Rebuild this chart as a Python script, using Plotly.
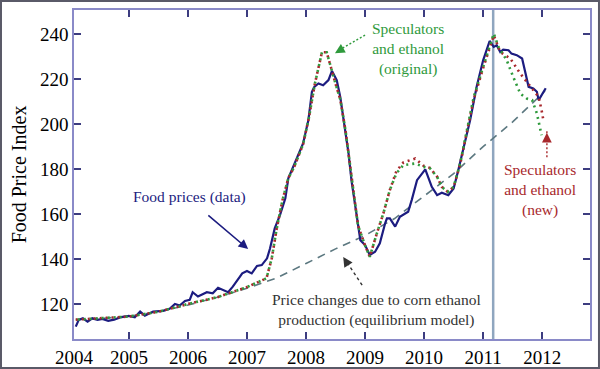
import plotly.graph_objects as go

# ---------------- data ----------------
food_years = [2004.10, 2004.15, 2004.22, 2004.30, 2004.38, 2004.47, 2004.55, 2004.65, 2004.75, 2004.85,
              2005.00, 2005.10, 2005.19, 2005.27, 2005.41, 2005.58, 2005.69, 2005.78, 2005.86, 2005.95,
              2006.03, 2006.08, 2006.17, 2006.32, 2006.42, 2006.51, 2006.68, 2006.76, 2006.92, 2007.00,
              2007.08, 2007.17, 2007.25, 2007.34, 2007.39, 2007.47, 2007.56, 2007.65, 2007.70, 2007.785,
              2007.95, 2008.04, 2008.10, 2008.14, 2008.21, 2008.29, 2008.38, 2008.44, 2008.52, 2008.58,
              2008.66, 2008.72, 2008.77, 2008.86, 2008.92, 2009.00, 2009.08, 2009.17, 2009.25, 2009.34,
              2009.37, 2009.42, 2009.51, 2009.59, 2009.65, 2009.73, 2009.79, 2009.88, 2010.02, 2010.07,
              2010.13, 2010.22, 2010.30, 2010.41, 2010.50, 2010.58, 2010.67, 2010.78, 2010.89, 2011.00,
              2011.11, 2011.18, 2011.23, 2011.29, 2011.34, 2011.43, 2011.48, 2011.57, 2011.66, 2011.71,
              2011.77, 2011.85, 2011.91, 2011.94, 2011.99, 2012.02, 2012.06]
food_values = [109.9, 112.9, 113.6, 112.1, 113.6, 112.9, 113.3, 112.5, 113.0, 114.0,
               114.7, 114.1, 116.6, 114.8, 116.6, 116.9, 117.8, 120.0, 119.3, 121.3,
               121.8, 125.2, 123.3, 125.2, 124.7, 127.2, 125.2, 127.7, 133.6, 134.7,
               133.6, 136.9, 137.3, 140.3, 144.7, 153.6, 159.6, 167.0, 175.9, 181.0,
               191.4, 201.8, 214.4, 216.6, 218.1, 217.3, 219.6, 223.7, 219.6, 212.1,
               197.3, 187.0, 175.0, 158.8, 148.4, 146.2, 141.8, 143.2, 147.0, 155.9,
               158.1, 158.1, 154.4, 158.8, 159.6, 161.0, 166.2, 175.1, 179.9, 176.6,
               172.1, 168.4, 169.5, 168.4, 171.4, 179.6, 189.9, 201.8, 216.6, 228.4,
               237.0, 234.4, 235.1, 232.1, 233.2, 232.9, 231.4, 230.7, 229.2, 224.0,
               216.6, 215.9, 214.4, 210.7, 212.9, 214.4, 216.0]

orig_years = [2004.10, 2004.50, 2005.00, 2005.50, 2006.00, 2006.50, 2007.00, 2007.33, 2007.42, 2007.50,
              2007.60, 2007.70, 2007.80, 2007.95, 2008.05, 2008.15, 2008.27, 2008.35, 2008.44, 2008.50,
              2008.58, 2008.67, 2008.78, 2008.88, 2009.00, 2009.08, 2009.20, 2009.31, 2009.42, 2009.53,
              2009.65, 2009.85, 2009.99, 2010.10, 2010.22, 2010.30, 2010.40, 2010.50, 2010.61, 2010.70,
              2010.84, 2011.00, 2011.15, 2011.18, 2011.26, 2011.40, 2011.51, 2011.63, 2011.74, 2011.83,
              2011.91, 2011.99]
orig_values = [113.0, 113.5, 114.4, 116.5, 120.0, 123.0, 127.5, 131.4, 140.3, 153.0,
               166.0, 176.0, 181.0, 191.0, 203.0, 218.0, 232.0, 232.0, 223.0, 218.0,
               211.0, 197.0, 175.0, 155.0, 146.0, 141.0, 151.4, 160.3, 170.7, 178.1,
               181.8, 182.5, 181.0, 180.3, 176.6, 172.1, 169.9, 172.1, 182.5, 194.0,
               212.0, 225.5, 237.3, 240.3, 234.4, 228.4, 221.0, 213.6, 211.4, 210.7,
               204.8, 195.1]

new_years = [2004.10, 2004.50, 2005.00, 2005.50, 2006.00, 2006.50, 2007.00, 2007.33, 2007.42, 2007.50,
             2007.60, 2007.70, 2007.80, 2007.95, 2008.05, 2008.15, 2008.27, 2008.35, 2008.44, 2008.50,
             2008.58, 2008.67, 2008.78, 2008.88, 2009.00, 2009.08, 2009.20, 2009.31, 2009.42, 2009.53,
             2009.65, 2009.85, 2009.99, 2010.10, 2010.22, 2010.30, 2010.40, 2010.50, 2010.61, 2010.70,
             2010.84, 2011.00, 2011.15, 2011.18, 2011.29, 2011.46, 2011.63, 2011.80, 2011.94, 2011.99,
             2012.02]
new_values = [113.0, 113.5, 114.4, 116.5, 120.0, 123.0, 127.5, 131.4, 140.3, 153.0,
              166.0, 176.0, 181.0, 191.0, 203.0, 218.0, 232.0, 232.0, 223.0, 218.0,
              211.0, 197.0, 175.0, 155.0, 146.0, 141.0, 151.4, 160.3, 170.7, 179.0,
              183.0, 184.7, 181.5, 180.5, 176.6, 172.1, 169.9, 172.0, 182.0, 193.5,
              211.0, 225.0, 237.0, 239.5, 232.1, 229.2, 222.5, 216.6, 212.1, 206.2,
              201.8]

equil_years = [2004.10, 2004.50, 2005.00, 2005.50, 2006.00, 2006.50, 2007.00, 2007.50, 2008.00, 2008.50,
               2009.00, 2009.50, 2010.00, 2010.50, 2011.00, 2011.50, 2012.00, 2012.05]
equil_values = [113.0, 113.5, 114.5, 116.5, 119.5, 123.0, 127.0, 131.5, 138.0, 144.5,
                150.5, 158.0, 168.0, 178.0, 190.0, 201.0, 213.5, 215.0]

x_tick_vals = [2004.07, 2005, 2006, 2007, 2008, 2009, 2010, 2011, 2012]
x_tick_text = ["2004", "2005", "2006", "2007", "2008", "2009", "2010", "2011", "2012"]
y_tick_vals = [120, 140, 160, 180, 200, 220, 240]
event_year = 2011.17

# ---------------- styling ----------------
SERIF = "Liberation Serif"
NAVY = "#1c1c80"
GREEN = "#2f9a3c"
RED = "#a8282c"
GRAY_DASH = "#5c7880"
TEXT_GRAY = "#333333"

fig = go.Figure()

fig.add_trace(go.Scatter(x=equil_years, y=equil_values, mode="lines",
                         line=dict(color=GRAY_DASH, width=1.6, dash="8px,6px"),
                         hoverinfo="skip", showlegend=False))
fig.add_trace(go.Scatter(x=food_years, y=food_values, mode="lines",
                         line=dict(color=NAVY, width=2.2),
                         showlegend=False))
# red and green dots interleave where the two model runs coincide
fig.add_trace(go.Scatter(x=new_years, y=new_values, mode="lines",
                         line=dict(color=RED, width=2.6, dash="2px,4px"),
                         showlegend=False))
fig.add_trace(go.Scatter(x=orig_years, y=orig_values, mode="lines",
                         line=dict(color=GREEN, width=2.6, dash="0px,2px,2px,2px"),
                         showlegend=False))

# vertical event line
fig.add_shape(type="line", xref="x", yref="paper", x0=event_year, x1=event_year, y0=0, y1=1,
              line=dict(color="#8fa6bf", width=2.5), layer="below")

# outer image border
fig.add_shape(type="rect", xref="paper", yref="paper",
              x0=-0.1415, x1=1.0174, y0=-0.0881, y1=1.0274,
              line=dict(color="#5a5a68", width=2))

# ---- annotations ----
fig.add_annotation(x=2006.03, y=167.6, text="Food prices (data)", showarrow=False,
                   font=dict(family=SERIF, size=15.5, color=NAVY))
fig.add_annotation(x=2007.02, y=144.4, ax=2006.32, ay=160.0, axref="x", ayref="y",
                   text="", showarrow=True, arrowhead=2, arrowsize=1.2, arrowwidth=1.6,
                   arrowcolor=NAVY)

fig.add_annotation(x=2009.73, y=233.3, text="Speculators<br>and ethanol<br>(original)",
                   showarrow=False, font=dict(family=SERIF, size=15.5, color=GREEN))
fig.add_shape(type="line", xref="x", yref="y", x0=2009.0, y0=239.6, x1=2008.55, y1=232.8,
              line=dict(color=GREEN, width=1.4, dash="2px,2px"))
fig.add_annotation(x=2008.49, y=231.6, ax=2008.62, ay=233.6, axref="x", ayref="y",
                   text="", showarrow=True, arrowhead=2, arrowsize=1.3, arrowwidth=1.5,
                   arrowcolor=GREEN)

fig.add_annotation(x=2011.97, y=170.7, text="Speculators<br>and ethanol<br>(new)",
                   showarrow=False, font=dict(family=SERIF, size=15.5, color=RED))
fig.add_shape(type="line", xref="x", yref="y", x0=2012.08, y0=185.3, x1=2012.08, y1=197.5,
              line=dict(color=RED, width=1.4, dash="2px,2px"))
fig.add_annotation(x=2012.08, y=196.2, ax=2012.08, ay=193.0, axref="x", ayref="y",
                   text="", showarrow=True, arrowhead=2, arrowsize=1.3, arrowwidth=1.5,
                   arrowcolor=RED)

fig.add_annotation(x=2009.20, y=117.3,
                   text="Price changes due to corn ethanol<br>production (equilibrium model)",
                   showarrow=False, font=dict(family=SERIF, size=15.5, color=TEXT_GRAY))
fig.add_shape(type="line", xref="x", yref="y", x0=2008.95, y0=128.4, x1=2008.67, y1=139.5,
              line=dict(color=TEXT_GRAY, width=1.4, dash="3px,3px"))
fig.add_annotation(x=2008.63, y=140.9, ax=2008.70, ay=138.0, axref="x", ayref="y",
                   text="", showarrow=True, arrowhead=2, arrowsize=1.3, arrowwidth=1.5,
                   arrowcolor=TEXT_GRAY)

axis_common = dict(showline=True, linecolor="#8a8ac8", linewidth=1.5, mirror="ticks",
                   ticks="inside", ticklen=7, tickwidth=1.5, tickcolor="#3c3c80",
                   showgrid=False, zeroline=False, automargin=False,
                   tickfont=dict(family=SERIF, size=19, color="black"))

fig.update_xaxes(range=[2004.07, 2012.81], tickvals=x_tick_vals, ticktext=x_tick_text,
                 **axis_common)
fig.update_yaxes(range=[104.4, 250.8], tickvals=y_tick_vals,
                 title=dict(text="Food Price Index", font=dict(family=SERIF, size=20, color="black"),
                            standoff=8),
                 **axis_common)

fig.update_layout(width=600, height=369, margin=dict(l=74, r=10, t=10, b=30, autoexpand=False),
                  paper_bgcolor="white", plot_bgcolor="white", showlegend=False)

fig.write_html("out.html", config={"displayModeBar": False},
               post_script="document.body.style.margin='0';document.body.style.overflow='hidden';")
